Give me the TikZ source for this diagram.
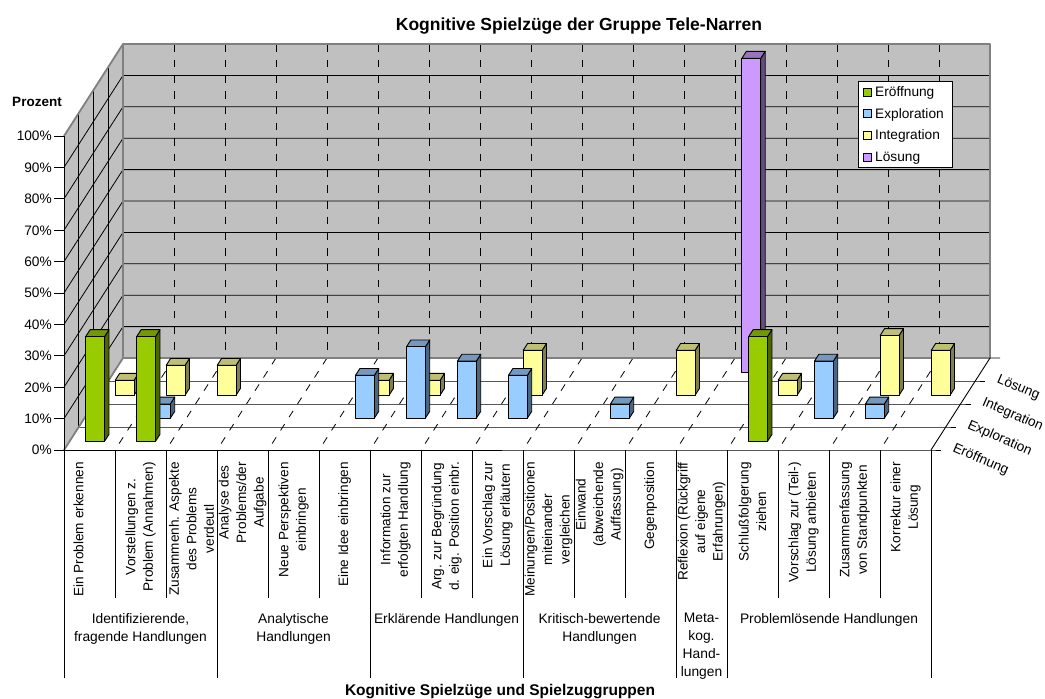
\documentclass[tikz,border=0pt]{standalone}
\usepackage{fontspec}
\setmainfont{Liberation Sans}

% series colours: face, top, side
\definecolor{eroeff}{HTML}{99CC00}
\definecolor{eroefftop}{HTML}{739900}
\definecolor{eroeffside}{HTML}{4D6600}
\definecolor{explo}{HTML}{99CCFF}
\definecolor{explotop}{HTML}{7399BF}
\definecolor{exploside}{HTML}{4D6680}
\definecolor{integ}{HTML}{FFFF99}
\definecolor{integtop}{HTML}{BFBF73}
\definecolor{integside}{HTML}{80804D}
\definecolor{loes}{HTML}{CC99FF}
\definecolor{loestop}{HTML}{9973BF}
\definecolor{loesside}{HTML}{664D80}
\definecolor{wall}{HTML}{C0C0C0}
\definecolor{walledgecol}{HTML}{808080}

% projection: category c, depth d (series row), value v in percent
\newcommand\pj[3]{({64+51*(#1)+14.75*(#2)},{450-23*(#2)-3.14*(#3)})}

% one 3-D column: category, row, value, colour name
\newcommand\cbar[4]{%
  \pgfmathsetmacro\bxL{#1+0.315}%
  \pgfmathsetmacro\bxR{#1+0.685}%
  \pgfmathsetmacro\bxF{#2+0.38}%
  \pgfmathsetmacro\bxB{#2+0.68}%
  \filldraw[barline, fill=#4side] \pj{\bxR}{\bxF}{0} -- \pj{\bxR}{\bxB}{0} -- \pj{\bxR}{\bxB}{#3} -- \pj{\bxR}{\bxF}{#3} -- cycle;
  \filldraw[barline, fill=#4top] \pj{\bxL}{\bxF}{#3} -- \pj{\bxR}{\bxF}{#3} -- \pj{\bxR}{\bxB}{#3} -- \pj{\bxL}{\bxB}{#3} -- cycle;
  \filldraw[barline, fill=#4] \pj{\bxL}{\bxF}{0} rectangle \pj{\bxR}{\bxF}{#3};
}

\tikzset{
  gridline/.style={black, line width=0.8pt},
  griddash/.style={dash pattern=on 7.5pt off 8.2pt},
  walledge/.style={walledgecol, line width=1.8pt, line join=round},
  axisline/.style={black, line width=0.9pt},
  barline/.style={black, line width=0.9pt, line join=round},
  ticklab/.style={anchor=base east, inner sep=0pt, font=\fontsize{13.7pt}{16pt}\selectfont},
  catlab/.style={rotate=90, anchor=east, align=center, inner sep=0pt, font=\fontsize{13.6pt}{17.5pt}\selectfont},
  grplab/.style={anchor=north, align=center, inner sep=0pt, font=\fontsize{13.8pt}{18pt}\selectfont},
  deplab/.style={anchor=base west, rotate=-23.5, inner sep=0pt, font=\fontsize{13.7pt}{16pt}\selectfont},
  leglab/.style={anchor=base west, inner sep=0pt, font=\fontsize{13.7pt}{16pt}\selectfont},
  legbox/.style={draw=black, fill=white, line width=0.8pt, minimum width=94pt, minimum height=86pt, inner sep=0pt},
}

\begin{document}
\begin{tikzpicture}[x=1pt,y=-1pt]
\useasboundingbox (0,0) rectangle (1045,699);
\fill[white] (0,0) rectangle (1045,699);

% back wall and side wall
\fill[wall] \pj{0}{4}{0} rectangle \pj{17}{4}{100};
\fill[wall] \pj{0}{0}{0} -- \pj{0}{4}{0} -- \pj{0}{4}{100} -- \pj{0}{0}{100} -- cycle;

% value gridlines on side and back wall
\foreach \vi in {10,20,...,90}
  \draw[gridline] \pj{0}{0}{\vi} -- \pj{0}{4}{\vi} -- \pj{17}{4}{\vi};
\foreach \di in {1,2,3}
  \draw[gridline] \pj{0}{\di}{0} -- \pj{0}{\di}{100};

% category gridlines on back wall and floor
\foreach \ci in {1,...,16} {
  \draw[gridline, griddash] \pj{\ci}{4}{100} -- \pj{\ci}{4}{0};
  \draw[gridline, griddash] \pj{\ci}{4}{0} -- \pj{\ci}{0}{0};
}
% series gridlines on the floor
\foreach \di in {1,2,3}
  \draw[gridline] \pj{0}{\di}{0} -- \pj{17}{\di}{0} -- ++(10,0);

% wall edges
\draw[walledge] \pj{0}{0}{0} -- \pj{0}{4}{0} -- \pj{17}{4}{0} -- \pj{17}{4}{100} -- \pj{0}{4}{100} -- \pj{0}{0}{100};
\draw[walledge] \pj{0}{4}{0} -- \pj{0}{4}{100};

% axes
\draw[axisline] \pj{0}{0}{100} -- \pj{0}{0}{0} -- \pj{17}{0}{0} -- ++(10,0);
\draw[axisline] \pj{17}{0}{0} -- \pj{17}{4}{0} -- ++(10,0);
\foreach \vi in {0,10,...,100} {
  \draw[axisline] \pj{0}{0}{\vi} -- ++(-10,0);
  \path \pj{0}{0}{\vi} ++(-12,4.9) node[ticklab] (tick\vi) {\vi\%};
}
\node[anchor=base, inner sep=0pt, font=\bfseries\fontsize{13.5pt}{16pt}\selectfont] (ylab) at (37,106.5) {Prozent};

% category and group separators below the floor
\foreach \ci in {1,2,4,5,7,8,10,11,14,15,16}
  \draw[axisline] \pj{\ci}{0}{0} -- ++(0,148);
\foreach \ci in {0,3,6,9,12,13,17}
  \draw[axisline] \pj{\ci}{0}{0} -- ++(0,228);

% columns, back row first
\cbar{12}{3}{100}{loes}
\foreach \ci/\vi in {0/4.762, 1/9.524, 2/9.524, 5/4.762, 6/4.762, 8/14.286, 11/14.286, 13/4.762, 15/19.048, 16/14.286}
  {\cbar{\ci}{2}{\vi}{integ}}
\foreach \ci/\vi in {1/4.545, 5/13.636, 6/22.727, 7/18.182, 8/13.636, 10/4.545, 14/18.182, 15/4.545}
  {\cbar{\ci}{1}{\vi}{explo}}
\foreach \ci in {0,1,13}
  {\cbar{\ci}{0}{33.333}{eroeff}}

% series names along the depth axis
\path \pj{17}{0.5}{0} ++(13.5,12.5) node[deplab] (dser0) {Eröffnung};
\path \pj{17}{1.5}{0} ++(13.5,12.5) node[deplab] (dser1) {Exploration};
\path \pj{17}{2.5}{0} ++(13.5,12.5) node[deplab] (dser2) {Integration};
\path \pj{17}{3.5}{0} ++(13.5,12.5) node[deplab] (dser3) {Lösung};

% category labels
\node[catlab] (c0) at (78.5,462) {Ein Problem erkennen};
\node[catlab] (c1) at (140.5,462) {Vorstellungen z.\\Problem (Annahmen)};
\node[catlab] (c2) at (191.5,462) {Zusammenh. Aspekte\\des Problems\\verdeutl};
\node[catlab] (c3) at (242.5,462) {Analyse des\\Problems/der\\Aufgabe};
\node[catlab] (c4) at (293.5,462) {Neue Perspektiven\\einbringen};
\node[catlab] (c5) at (344.5,462) {Eine Idee einbringen};
\node[catlab] (c6) at (395.5,462) {Information zur\\erfolgten Handlung};
\node[catlab] (c7) at (446.5,462) {Arg. zur Begründung\\d. eig. Position einbr.};
\node[catlab] (c8) at (497.5,462) {Ein Vorschlag zur\\Lösung erläutern};
\node[catlab] (c9) at (548.5,462) {Meinungen/Positionen\\miteinander\\vergleichen};
\node[catlab] (c10) at (599.5,462) {Einwand\\(abweichende\\Auffassung)};
\node[catlab] (c11) at (650.5,462) {Gegenposition};
\node[catlab] (c12) at (701.5,462) {Reflexion (Rückgriff\\auf eigene\\Erfahrungen)};
\node[catlab] (c13) at (752.5,462) {Schlußfolgerung\\ziehen};
\node[catlab] (c14) at (803.5,462) {Vorschlag zur (Teil-)\\Lösung anbieten};
\node[catlab] (c15) at (854.5,462) {Zusammenfassung\\von Standpunkten};
\node[catlab] (c16) at (905.5,462) {Korrektur einer\\Lösung};

% group labels
\node[grplab] (g1) at (140.5,613) {Identifizierende,\\fragende Handlungen};
\node[grplab] (g2) at (293.5,613) {Analytische\\Handlungen};
\node[grplab] (g3) at (446.5,613) {Erklärende Handlungen};
\node[grplab] (g4) at (599.5,613) {Kritisch-bewertende\\Handlungen};
\node[grplab] (g5) at (701.5,613) {Meta-\\kog.\\Hand-\\lungen};
\node[grplab] (g6) at (829,613) {Problemlösende Handlungen};

% titles
\node[anchor=base, inner sep=0pt, font=\bfseries\fontsize{17.5pt}{20pt}\selectfont] (title) at (579,30) {Kognitive Spielzüge der Gruppe Tele-Narren};
\node[anchor=base, inner sep=0pt, font=\bfseries\fontsize{15.5pt}{18pt}\selectfont] (xtitle) at (500,695) {Kognitive Spielzüge und Spielzuggruppen};

% legend
\node[legbox] (legend) at (905,124) {};
\foreach \col/\txt [count=\i from 0] in {eroeff/Eröffnung, explo/Exploration, integ/Integration, loes/Lösung} {
  \draw[fill=\col, line width=0.8pt] (863,{88+21.7*\i}) rectangle ++(8,8);
  \node[leglab] (leg\i) at (875,{96.5+21.7*\i}) {\txt};
}
\end{tikzpicture}
\end{document}
